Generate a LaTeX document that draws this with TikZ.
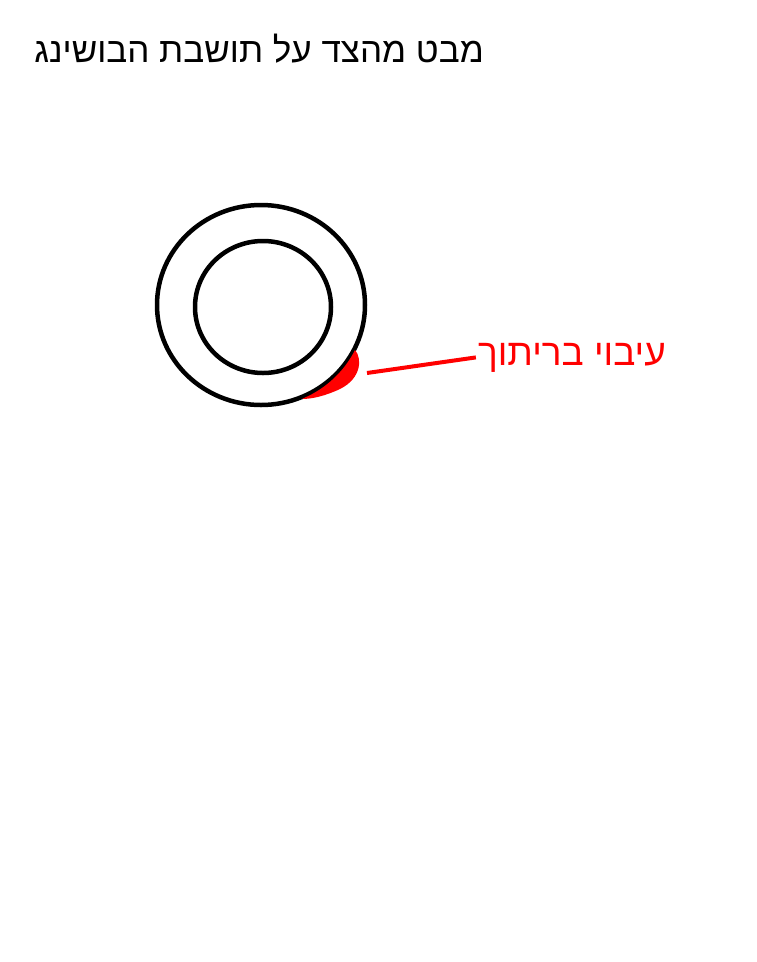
\documentclass[tikz,border=0pt]{standalone}
\usepackage{fontspec}
\TeXXeTstate=1
\newfontfamily\hebfont[Script=Hebrew]{Liberation Sans}
\usetikzlibrary{calc}

\tikzset{
    ring/.style={draw=black, line width=4.5pt},
    weldfill/.style={fill=red, draw=none},
    callout/.style={draw=red, line width=4pt},
    heb/.style={font=\hebfont\fontsize{35}{42}\selectfont, inner sep=2pt}
}

\begin{document}
\begin{tikzpicture}[x=1pt,y=-1pt]
    \useasboundingbox (0,0) rectangle (757,962);
    % title
    \node[heb, anchor=base east] (title) at (486,62) {\beginR מבט מהצד על תושבת הבושינג\endR};
    % bushing seat, side view
    \begin{scope}[shift={(261,305)}]
        \foreach \rx/\ry/\dx/\dy in {104/100/0/0, 68/66/2/2} {
            \draw[ring] (\dx,\dy) ellipse [x radius=\rx, y radius=\ry];
            }
    \end{scope}
    % weld
    \fill[weldfill] (304,398) .. controls (326,388.5) and (344.4,371.2) .. (355,350)
        .. controls (362,358) and (362,378) .. (340,389)
        .. controls (325,396) and (312,399) .. (302,399) -- cycle;
    \coordinate (weld) at (367,373);
    \node[heb, red, font=\hebfont\fontsize{37}{44}\selectfont, anchor=base east] (lbl) at (668,365) {\beginR עיבוי בריתוך\endR};
    \draw[callout] (weld) -- (lbl.west);
\end{tikzpicture}
\end{document}
